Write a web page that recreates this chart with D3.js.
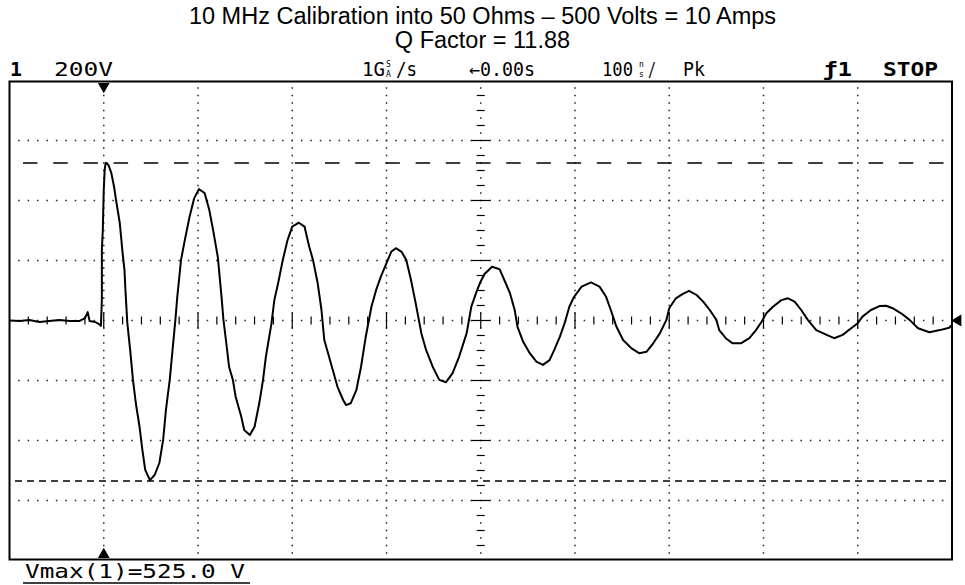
<!DOCTYPE html>
<html>
<head>
<meta charset="utf-8">
<script src="https://cdn.jsdelivr.net/npm/d3@7/dist/d3.min.js"></script>
<style>
  body { margin: 0; background: #fff; }
  svg { display: block; }
</style>
</head>
<body>
<script>
// trace: time in ns (0 = screen centre), volts
var timeNs = [-500, -489, -479, -468, -458, -447, -436, -426, -420, -417, -415, -409, -405, -403,
  -402, -402, -401, -400, -399, -398, -397,
  -395, -392, -389, -387, -383, -380, -378, -377, -375, -372, -369, -366, -362, -359, -356, -351,
  -346, -341, -337, -334, -330, -327, -324, -322, -318, -314, -309, -304, -299,
  -293, -288, -284, -279, -275, -273, -270, -267, -263, -260, -254, -251, -245,
  -240, -235, -231, -228, -222, -219, -215, -210, -205, -200, -193,
  -187, -182, -178, -173, -169, -166, -162, -157, -152, -146, -143,
  -138, -132, -127, -122, -116, -111, -106, -100, -95, -90,
  -84, -79, -74, -69, -63, -58, -51, -44, -37,
  -30, -23, -15, -10, -5, -1, 4, 12,
  20, 25, 31, 36, 39, 45, 52, 59, 66,
  73, 78, 84, 89, 94, 99, 107, 117,
  126, 133, 138, 144, 151, 160, 168,
  176, 183, 190, 197, 200, 207, 214, 221,
  229, 236, 243, 250, 253, 260, 267, 276,
  285, 292, 298, 303, 310, 319, 326,
  333, 340, 347, 356, 367, 375,
  384, 393, 400, 405, 414, 423, 430,
  437, 446, 455, 464, 476, 487, 497, 500];
var volts = [0, -2, 2, -5, -2, 2, -2, -2, 8, 28, -2, -5, -12, -18,
  68, 235, 302, 435, 502, 525, 525,
  518, 492, 445, 402, 325, 225, 168, 102, -8, -98, -198, -275, -355, -432, -498, -532,
  -515, -475, -398, -298, -198, -98, 2, 78, 202, 268, 345, 408, 438,
  425, 368, 302, 212, 78, 2, -75, -155, -198, -255, -322, -365, -382,
  -354, -276, -198, -121, -9, 68, 124, 202, 268, 313, 326,
  313, 246, 202, 124, 35, -65, -109, -165, -221, -265, -282,
  -276, -232, -154, -54, 46, 102, 146, 191, 229, 241,
  229, 202, 135, 57, -43, -98, -154, -198, -206,
  -176, -121, -43, 46, 91, 124, 155, 179,
  171, 135, 91, 35, -21, -71, -109, -137, -148,
  -132, -98, -54, -9, 46, 79, 113, 127,
  113, 79, 35, -21, -65, -93, -109,
  -104, -76, -43, 2, 41, 74, 88, 99,
  85, 63, 35, 2, -32, -59, -76, -76,
  -59, -32, -4, 24, 46, 68, 74,
  63, 35, 2, -32, -48, -59,
  -48, -26, -9, 13, 35, 48, 49,
  41, 24, 2, -26, -39, -32, -24, -15];

var titleLines = ['10 MHz Calibration into 50 Ohms \u2013 500 Volts = 10 Amps', 'Q Factor = 11.88'];
var cursorVolts = [525, -535];          // upper and lower voltage cursors
var gridTimes = [-400, -300, -200, -100, 100, 200, 300, 400];
var gridVolts = [-600, -400, -200, 200, 400, 600];
var measurement = 'Vmax(1)=525.0 V';
// status line of the scope: text, left x, width, bold
var statusItems = [
    ['1', 10, 12, true],
    ['200V', 54, 59, false],
    ['1G', 362, 23, false],
    ['/s', 396, 21, false],
    ['\u21900.00s', 469, 66, false],
    ['100', 602, 31, false],
    ['/', 648, 8, false],
    ['Pk', 683, 22, false],
    ['\u01921', 823, 29, true],
    ['STOP', 883, 55, true]];
// small stacked unit letters: top, bottom, x
var stackedUnits = [['S', 'A', 386], ['n', 's', 639]];

var svgwidth = 965, svgheight = 585,
    screen = { left: 9.5, right: 952, top: 80.5, bottom: 560.5 };

var x = d3.scaleLinear().domain([-500, 500]).range([screen.left, screen.right]);
var y = d3.scaleLinear().domain([-800, 800]).range([screen.bottom, screen.top]);

var svg = d3.select('body').append('svg')
    .attr('width', svgwidth)
    .attr('height', svgheight);

// title
svg.selectAll('text.title')
    .data(titleLines)
    .enter().append('text')
    .attr('class', 'title')
    .attr('x', svgwidth / 2)
    .attr('y', function (d, i) { return 24 + i * 24; })
    .attr('text-anchor', 'middle')
    .attr('font-family', 'Liberation Sans, Arial, sans-serif')
    .attr('font-size', '23.5px')
    .text(function (d) { return d; });

// scope status line
var statusLine = svg.append('g')
    .attr('font-family', 'DejaVu Sans Mono, monospace')
    .attr('font-size', '19px')
    .attr('fill', '#000');
statusLine.selectAll('text.item')
    .data(statusItems)
    .enter().append('text')
    .attr('class', 'item')
    .attr('x', function (d) { return d[1]; })
    .attr('y', 76)
    .attr('textLength', function (d) { return d[2]; })
    .attr('lengthAdjust', 'spacingAndGlyphs')
    .attr('font-weight', function (d) { return d[3] ? 'bold' : 'normal'; })
    .text(function (d) { return d[0]; });
stackedUnits.forEach(function (u) {
    statusLine.append('text').attr('x', u[2]).attr('y', 67)
        .attr('font-size', '8px').text(u[0]);
    statusLine.append('text').attr('x', u[2]).attr('y', 77)
        .attr('font-size', '8px').text(u[1]);
});

// dotted graticule
var dots = svg.append('g').attr('fill', '#222');
gridVolts.forEach(function (v) {
    dots.selectAll(null)
        .data(d3.range(-490, 500, 10))
        .enter().append('rect')
        .attr('x', function (t) { return x(t) - 0.75; })
        .attr('y', y(v) - 0.75)
        .attr('width', 1.5).attr('height', 1.5);
});
gridTimes.forEach(function (t) {
    dots.selectAll(null)
        .data(d3.range(-775, 800, 25))
        .enter().append('rect')
        .attr('x', x(t) - 0.75)
        .attr('y', function (v) { return y(v) - 0.75; })
        .attr('width', 1.5).attr('height', 1.5);
});

// centre axes with minor ticks
var axes = svg.append('g').attr('stroke', '#000').attr('stroke-width', 1.2);
// horizontal centre line: ticks every 20 ns, dots between, long ticks on grid lines
axes.selectAll(null)
    .data(d3.range(-480, 500, 20))
    .enter().append('line')
    .attr('x1', function (t) { return x(t); }).attr('x2', function (t) { return x(t); })
    .attr('y1', function (t) { return y(0) - (t % 100 === 0 ? 8 : 4); })
    .attr('y2', function (t) { return y(0) + (t % 100 === 0 ? 8 : 4); });
dots.selectAll(null)
    .data(d3.range(-490, 500, 20))
    .enter().append('rect')
    .attr('x', function (t) { return x(t) - 0.75; })
    .attr('y', y(0) - 0.75)
    .attr('width', 1.5).attr('height', 1.5);
// vertical centre line: ticks every 50 V, dots between, long ticks on grid lines
axes.selectAll(null)
    .data(d3.range(-750, 800, 50))
    .enter().append('line')
    .attr('x1', function (v) { return x(0) - (v % 200 === 0 ? 9 : 4); })
    .attr('x2', function (v) { return x(0) + (v % 200 === 0 ? 9 : 4); })
    .attr('y1', function (v) { return y(v); }).attr('y2', function (v) { return y(v); });
dots.selectAll(null)
    .data(d3.range(-775, 800, 50))
    .enter().append('rect')
    .attr('x', x(0) - 0.75)
    .attr('y', function (v) { return y(v) - 0.75; })
    .attr('width', 1.5).attr('height', 1.5);

// voltage cursors (long dashes on top, short dashes at the bottom)
svg.selectAll('line.cursor')
    .data(cursorVolts)
    .enter().append('line')
    .attr('class', 'cursor')
    .attr('x1', function (d, i) { return i === 0 ? 23 : 15; })
    .attr('x2', screen.right - 1)
    .attr('y1', function (d) { return y(d); })
    .attr('y2', function (d) { return y(d); })
    .attr('stroke', '#000')
    .attr('stroke-width', 1.6)
    .attr('stroke-dasharray', function (d, i) { return i === 0 ? '14.5,15.7' : '7,5'; });

// trace
var trace = timeNs.map(function (t, i) { return [t, volts[i]]; });
svg.append('path')
    .datum(trace)
    .attr('fill', 'none')
    .attr('stroke', '#000')
    .attr('stroke-width', 2)
    .attr('stroke-linejoin', 'round')
    .attr('d', d3.line()
        .x(function (d) { return x(d[0]); })
        .y(function (d) { return y(d[1]); }));

// screen frame
svg.append('rect')
    .attr('x', screen.left).attr('y', screen.top + 1)
    .attr('width', screen.right - screen.left)
    .attr('height', screen.bottom - screen.top - 2)
    .attr('fill', 'none')
    .attr('stroke', '#000')
    .attr('stroke-width', 2);

// markers: trigger time (top & bottom), ground level (right)
var tri = d3.symbol().type(d3.symbolTriangle).size(60);
svg.append('path').attr('d', tri)
    .attr('transform', 'translate(' + x(-400) + ',' + (screen.top + 6) + ') rotate(180)');
svg.append('path').attr('d', tri)
    .attr('transform', 'translate(' + x(-400) + ',' + (screen.bottom - 6) + ')');
svg.append('path').attr('d', tri)
    .attr('transform', 'translate(' + (screen.right + 6) + ',' + y(0) + ') rotate(-90)');

// measurement readout
svg.append('text')
    .attr('x', 25)
    .attr('y', 578)
    .attr('font-family', 'DejaVu Sans Mono, monospace')
    .attr('font-size', '19px')
    .attr('textLength', 220)
    .attr('lengthAdjust', 'spacingAndGlyphs')
    .text(measurement);
svg.append('line')
    .attr('x1', 23).attr('x2', 250)
    .attr('y1', 583).attr('y2', 583)
    .attr('stroke', '#000')
    .attr('stroke-width', 1.5);
</script>
</body>
</html>
